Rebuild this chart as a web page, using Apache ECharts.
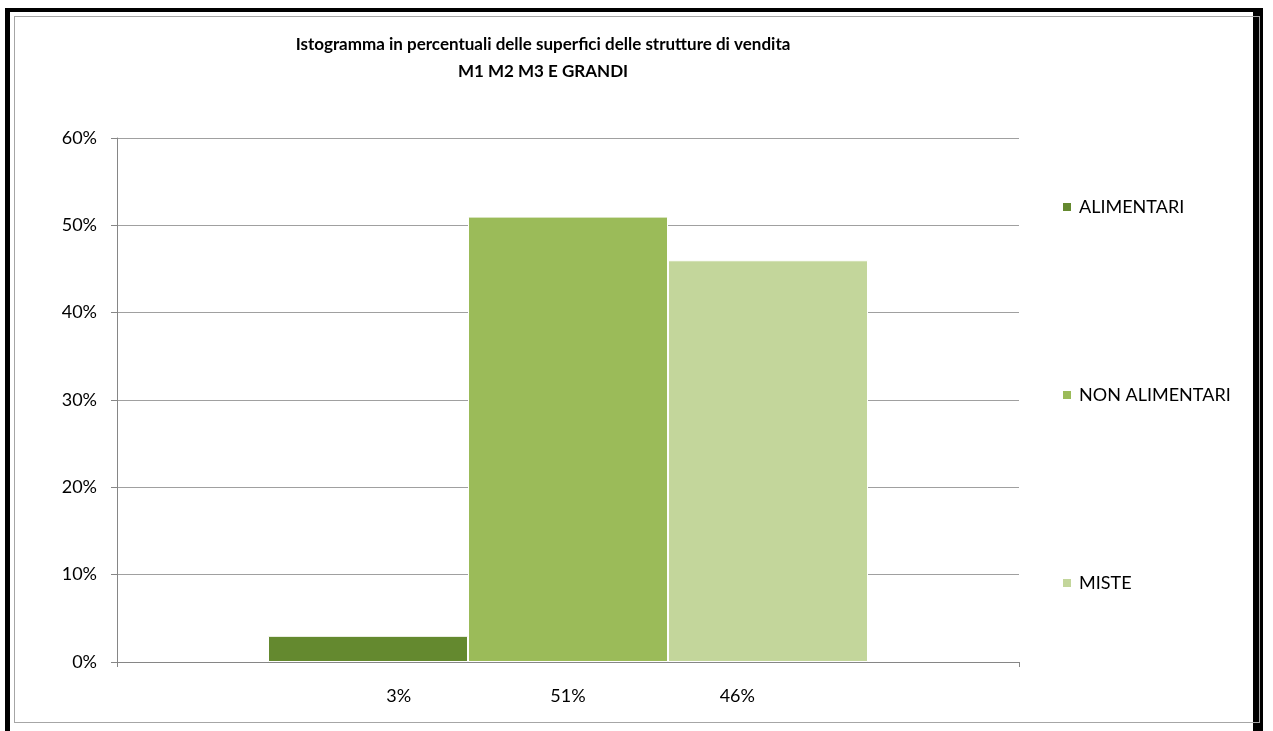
<!DOCTYPE html>
<html>
<head>
<meta charset="utf-8">
<script src="https://cdn.jsdelivr.net/npm/echarts@6/dist/echarts.min.js"></script>
<style>
    html, body { margin: 0; padding: 0; background: #fff; }
    #chart { position: absolute; left: 0; top: 0; width: 1273px; height: 731px; }
    .frame { position: absolute; pointer-events: none; }
</style>
</head>
<body>
<div id="chart"></div>
<!-- cornice nera esterna e bordo grigio interno -->
<div class="frame" style="left:5px;top:8px;width:1258px;height:723px;border-left:5px solid #000;border-top:4px solid #000;border-right:10px solid #000;box-sizing:border-box;"></div>
<div class="frame" style="left:14px;top:16px;width:1246px;height:707px;border:1px solid #a6a6a6;box-sizing:border-box;"></div>
<script>
    // dati
    var seriesNames = ['ALIMENTARI', 'NON ALIMENTARI', 'MISTE'];
    var seriesValues = [0.03, 0.51, 0.46];
    var seriesColors = ['#64892f', '#9bbb59', '#c3d69b'];
    var pctLabels = ['3%', '51%', '46%'];
    var yTicks = [0, 0.1, 0.2, 0.3, 0.4, 0.5, 0.6];

    var font = 'Lato, "Open Sans", sans-serif';

    var myChart = echarts.init(document.getElementById('chart'));

    var series = seriesNames.map(function (name, i) {
        return {
            name: name,
            type: 'bar',
            xAxisIndex: 0,
            yAxisIndex: 0,
            data: [seriesValues[i]],
            barWidth: 200,
            barGap: '0%',
            itemStyle: {
                color: seriesColors[i],
                borderColor: '#fff',
                borderWidth: 1
            }
        };
    });

    myChart.setOption({
        animation: false,
        backgroundColor: 'transparent',
        title: {
            text: 'Istogramma in percentuali delle superfici delle strutture di vendita\nM1 M2 M3 E GRANDI',
            left: 538,
            top: 26,
            textAlign: 'center',
            textStyle: {
                fontFamily: font,
                fontSize: 17,
                fontWeight: 'bold',
                color: '#000',
                lineHeight: 27
            }
        },
        legend: {
            orient: 'vertical',
            left: 1056,
            top: 191,
            itemWidth: 10,
            itemHeight: 10,
            itemGap: 166,
            icon: 'rect',
            data: seriesNames,
            textStyle: {
                fontFamily: font,
                fontSize: 18,
                color: '#000',
                lineHeight: 22,
                padding: [0, 0, 0, 2]
            }
        },
        grid: [
            { left: 117, right: 254, top: 138, bottom: 69 },
            { left: 314, right: 451, top: 138, bottom: 69 }
        ],
        xAxis: [
            {
                type: 'category',
                gridIndex: 0,
                data: [''],
                axisLine: { lineStyle: { color: '#868686' } },
                axisTick: { show: true, length: 5, lineStyle: { color: '#868686' } },
                axisLabel: { show: false }
            },
            {
                type: 'category',
                gridIndex: 1,
                data: pctLabels,
                axisLine: { show: false },
                axisTick: { show: false },
                axisLabel: {
                    margin: 25,
                    fontFamily: font,
                    fontSize: 18,
                    color: '#000'
                }
            }
        ],
        yAxis: [
            {
                type: 'value',
                gridIndex: 0,
                min: yTicks[0],
                max: yTicks[yTicks.length - 1],
                interval: 0.1,
                axisLine: { show: true, lineStyle: { color: '#868686' } },
                axisTick: { show: true, length: 6, lineStyle: { color: '#868686' } },
                axisLabel: {
                    margin: 20,
                    fontFamily: font,
                    fontSize: 18,
                    color: '#000',
                    formatter: function (v) { return Math.round(v * 100) + '%'; }
                },
                splitLine: { show: true, lineStyle: { color: '#a0a0a0' } }
            },
            {
                type: 'value',
                gridIndex: 1,
                min: 0,
                max: 0.6,
                show: false
            }
        ],
        series: series
    });
</script>
</body>
</html>
